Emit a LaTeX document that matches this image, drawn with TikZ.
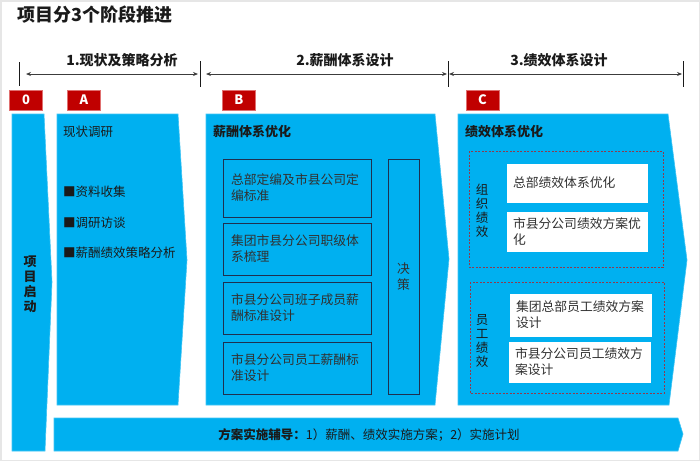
\documentclass[tikz,border=0pt]{standalone}
\usepackage{fontspec}
\setmainfont{Noto Sans CJK SC}
\usetikzlibrary{arrows.meta}
\definecolor{sky}{HTML}{00B0F0}
\definecolor{skyedge}{HTML}{40C4F4}
\definecolor{tagred}{HTML}{C00000}
\definecolor{tagedge}{HTML}{E07070}
\definecolor{boxline}{HTML}{1F3050}
\definecolor{dashred}{HTML}{8E3B4E}
\definecolor{txt}{HTML}{1A1A1A}
\definecolor{frame}{HTML}{E6E6E6}
\begin{document}
\begin{tikzpicture}[x=1pt,y=-1pt,
  chev/.style={fill=sky,draw=skyedge,line width=0.6pt},
  tag/.style={fill=tagred,draw=tagedge,line width=0.6pt,text=white,
    font=\bfseries\fontsize{13}{13}\selectfont,minimum width=33pt,minimum height=20pt,inner sep=0pt},
  phase/.style={font=\bfseries\fontsize{14}{14}\selectfont,text=txt,inner sep=0pt},
  tick/.style={draw=txt,line width=1pt},
  pharrow/.style={draw=txt!85,line width=0.8pt,{Stealth[length=5pt,width=4pt]}-{Stealth[length=5pt,width=4pt]}},
  ibox/.style={draw=boxline,line width=0.8pt,text=txt!90,align=left,inner xsep=8pt,inner ysep=0pt,
    font=\fontsize{12.8}{16}\selectfont},
  wbox/.style={fill=white,draw=white,text=txt!90,align=left,inner xsep=6pt,inner ysep=0pt,
    font=\fontsize{12.8}{16}\selectfont},
  dbox/.style={draw=dashred,line width=0.8pt,dash pattern=on 2pt off 1.5pt},
  vlab/.style={align=center,text=txt,inner sep=0pt,font=\fontsize{12.5}{14}\selectfont},
  btext/.style={text=txt,inner sep=0pt,anchor=west,font=\fontsize{12.5}{15}\selectfont},
  htitle/.style={text=txt,inner sep=0pt,anchor=west,font=\bfseries\fontsize{13}{15}\selectfont}
]
\useasboundingbox (0,0) rectangle (700,461);
\draw[frame,line width=1.5pt] (0.75,0.75) rectangle (699.25,460.25);

% title
\node[anchor=west,inner sep=0pt,text=txt,font=\bfseries\fontsize{18}{18}\selectfont] (title) at (17,15) {项目分3个阶段推进};

% phase ticks
\coordinate (t0a) at (19,62); \coordinate (t0b) at (19,86);
\coordinate (t1a) at (200,61); \coordinate (t1b) at (200,87);
\coordinate (t2a) at (448,61); \coordinate (t2b) at (448,87);
\coordinate (t3a) at (683,61); \coordinate (t3b) at (683,87);
\draw[tick] (t0a) -- (t0b);
\draw[tick] (t1a) -- (t1b);
\draw[tick] (t2a) -- (t2b);
\draw[tick] (t3a) -- (t3b);
\coordinate (a1s) at (26,74); \coordinate (a1e) at (198,74);
\coordinate (a2s) at (206,74); \coordinate (a2e) at (447,74);
\coordinate (a3s) at (449,74); \coordinate (a3e) at (682,74);
\draw[pharrow] (a1s) -- (a1e);
\draw[pharrow] (a2s) -- (a2e);
\draw[pharrow] (a3s) -- (a3e);
\node[phase] (p1) at (122,60) {1.现状及策略分析};
\node[phase] (p2) at (345,60) {2.薪酬体系设计};
\node[phase] (p3) at (559,60) {3.绩效体系设计};

% tags
\node[tag] (tag0) at (26,100) {0};
\node[tag] (tagA) at (84,100) {A};
\node[tag] (tagB) at (239,100) {B};
\node[tag] (tagC) at (482.5,100) {C};

% chevrons
\draw[chev] (12,114) -- (44,114) -- (52,282) -- (45,451) -- (12,451) -- cycle;
\draw[chev] (57,114) -- (178,114) -- (187,260) -- (178,405) -- (57,405) -- cycle;
\draw[chev] (206,114) -- (435,114) -- (449,259) -- (435,405) -- (206,405) -- cycle;
\draw[chev] (458,114) -- (668,114) -- (687,260) -- (669,405) -- (458,405) -- cycle;
\draw[chev] (54,418) -- (678,418) -- (683,434) -- (678,451) -- (54,451) -- cycle;

% column 0
\node[vlab,font=\bfseries\fontsize{13}{15}\selectfont] (start) at (30,284) {项\\目\\启\\动};

% column A
\node[btext] (aTitle) at (63,132) {现状调研};
\node[btext] (a1) at (63,192) {■资料收集};
\node[btext] (a2) at (63,223) {■调研访谈};
\node[btext] (a3) at (63,253) {■薪酬绩效策略分析};

% column B
\node[htitle] (bTitle) at (213,132) {薪酬体系优化};
\node[ibox,minimum width=148pt,minimum height=58pt,text width=132pt] (b1) at (297,188) {总部定编及市县公司定\\编标准};
\node[ibox,minimum width=148pt,minimum height=52pt,text width=132pt] (b2) at (297,249) {集团市县分公司职级体\\系梳理};
\node[ibox,minimum width=148pt,minimum height=52pt,text width=132pt] (b3) at (297,308) {市县分公司班子成员薪\\酬标准设计};
\node[ibox,minimum width=148pt,minimum height=52pt,text width=132pt] (b4) at (297,368) {市县分公司员工薪酬标\\准设计};
\node[ibox,align=center,inner xsep=0pt,minimum width=31pt,minimum height=235pt] (bd) at (403.5,276.5) {决\\策};

% column C
\node[htitle] (cTitle) at (465,132) {绩效体系优化};
\draw[dbox] (469,151) rectangle (663,267);
\draw[dbox] (470,282) rectangle (664,393);
\node[vlab] (org) at (482,211) {组\\织\\绩\\效};
\node[vlab] (emp) at (482,341) {员\\工\\绩\\效};
\node[wbox,minimum width=140pt,minimum height=38pt,text width=128pt] (c1) at (577,183) {总部绩效体系优化};
\node[wbox,minimum width=140pt,minimum height=39pt,text width=128pt] (c2) at (577,231.5) {市县分公司绩效方案优\\化};
\node[wbox,minimum width=141pt,minimum height=42pt,text width=129pt] (c3) at (580.5,315) {集团总部员工绩效方案\\设计};
\node[wbox,minimum width=141pt,minimum height=40pt,text width=129pt] (c4) at (579.5,362) {市县分公司员工绩效方\\案设计};

% bottom bar
\node[text=txt,inner sep=0pt,font=\fontsize{12.5}{14}\selectfont] (bottom) at (369,435) {\textbf{方案实施辅导：}1）薪酬、绩效实施方案；2）实施计划};
\end{tikzpicture}
\end{document}
